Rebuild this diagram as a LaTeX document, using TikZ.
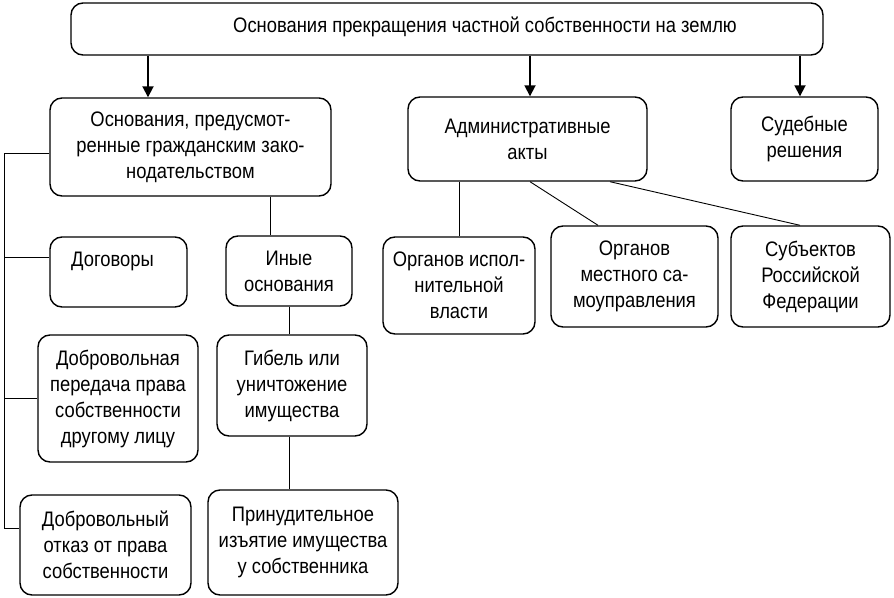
\documentclass[tikz,border=0pt]{standalone}
\usepackage{fontspec}
\setmainfont{Liberation Sans}[FakeStretch=0.875]
\usetikzlibrary{positioning,arrows.meta}
\tikzset{>={Triangle[length=11pt,width=11pt]}}
\tikzset{
  box/.style={draw, line width=1.4pt, rounded corners=12pt, align=center, inner sep=0pt,
    font=\fontsize{21}{26}\selectfont},
  link/.style={line width=0.9pt},
  arr/.style={->, line width=1.8pt}
}

\begin{document}
\begin{tikzpicture}[x=1pt,y=-1pt]
    \useasboundingbox (0,0) rectangle (894,597);
    % set up the nodes
    \node[box, minimum width=752pt, minimum height=52pt,
      label={[xshift=38pt,yshift=2pt,font=\fontsize{21}{26}\selectfont]center:Основания прекращения частной собственности на землю}] (T) at (447,29) {};

    \node[box, minimum width=281pt, minimum height=98pt] (C) at (190.5,147) {Основания, предусмот-\\ренные гражданским зако-\\нодательством};
    \node[box, minimum width=239pt, minimum height=84pt] (A) at (527.5,139) {Административные\\акты};
    \node[box, minimum width=147pt, minimum height=84pt] (S) at (804.5,139) {Судебные\\решения};

    \node[box, minimum width=137pt, minimum height=70pt] (D) at (118.5,272) {Договоры\hspace*{12pt}\\\mbox{}};
    \node[box, minimum width=126pt, minimum height=70pt] (I) at (289,271) {Иные\\основания};
    \node[box, minimum width=160pt, minimum height=127pt] (V) at (118,398.5) {Добровольная\\передача права\\собственности\\другому лицу};
    \node[box, minimum width=150pt, minimum height=101pt] (G) at (292,385.5) {Гибель или\\уничтожение\\имущества};
    \node[box, minimum width=171pt, minimum height=100pt] (R) at (105.5,545) {Добровольный\\отказ от права\\собственности};
    \node[box, minimum width=190pt, minimum height=105pt] (P) at (303,542.5) {Принудительное\\изъятие имущества\\у собственника};

    \node[box, minimum width=152pt, minimum height=97pt] (E) at (459,285.5) {Органов испол-\\нительной\\власти};
    \node[box, minimum width=167pt, minimum height=101pt] (M) at (634.5,276.5) {Органов\\местного са-\\моуправления};
    \node[box, minimum width=159pt, minimum height=101pt] (F) at (810.5,276.5) {Субъектов\\Российской\\Федерации};

    \coordinate (bus) at (4,153);
    % draw arrows and lines between them
    \draw[arr] ([xshift=-42.5pt]C.north |- T.south) -- ([xshift=-42.5pt]C.north);
    \draw[arr] ([xshift=2.5pt]A.north |- T.south) -- ([xshift=2.5pt]A.north);
    \draw[arr] ([xshift=-4.5pt]S.north |- T.south) -- ([xshift=-4.5pt]S.north);

    \draw[link] ([yshift=-6pt]C.west) -| ([yshift=17pt]R.west -| bus) -- ([yshift=17pt]R.west);
    \draw[link] ([yshift=15pt]D.west -| bus) -- ([yshift=15pt]D.west);
    \draw[link] (V.west -| bus) -- (V.west);

    \draw[link] ([xshift=-19pt]I.north |- C.south) -- ([xshift=-19pt]I.north);
    \draw[link] (I.south) -- (I.south |- G.north);
    \draw[link] (I.south |- G.south) -- (I.south |- P.north);

    \draw[link] (E.north |- A.south) -- (E.north);
    \draw[link] ([xshift=2.5pt]A.south) -- ([xshift=-36.5pt]M.north);
    \draw[link] ([xshift=82.5pt]A.south) -- ([xshift=-10.5pt]F.north);
\end{tikzpicture}
\end{document}
